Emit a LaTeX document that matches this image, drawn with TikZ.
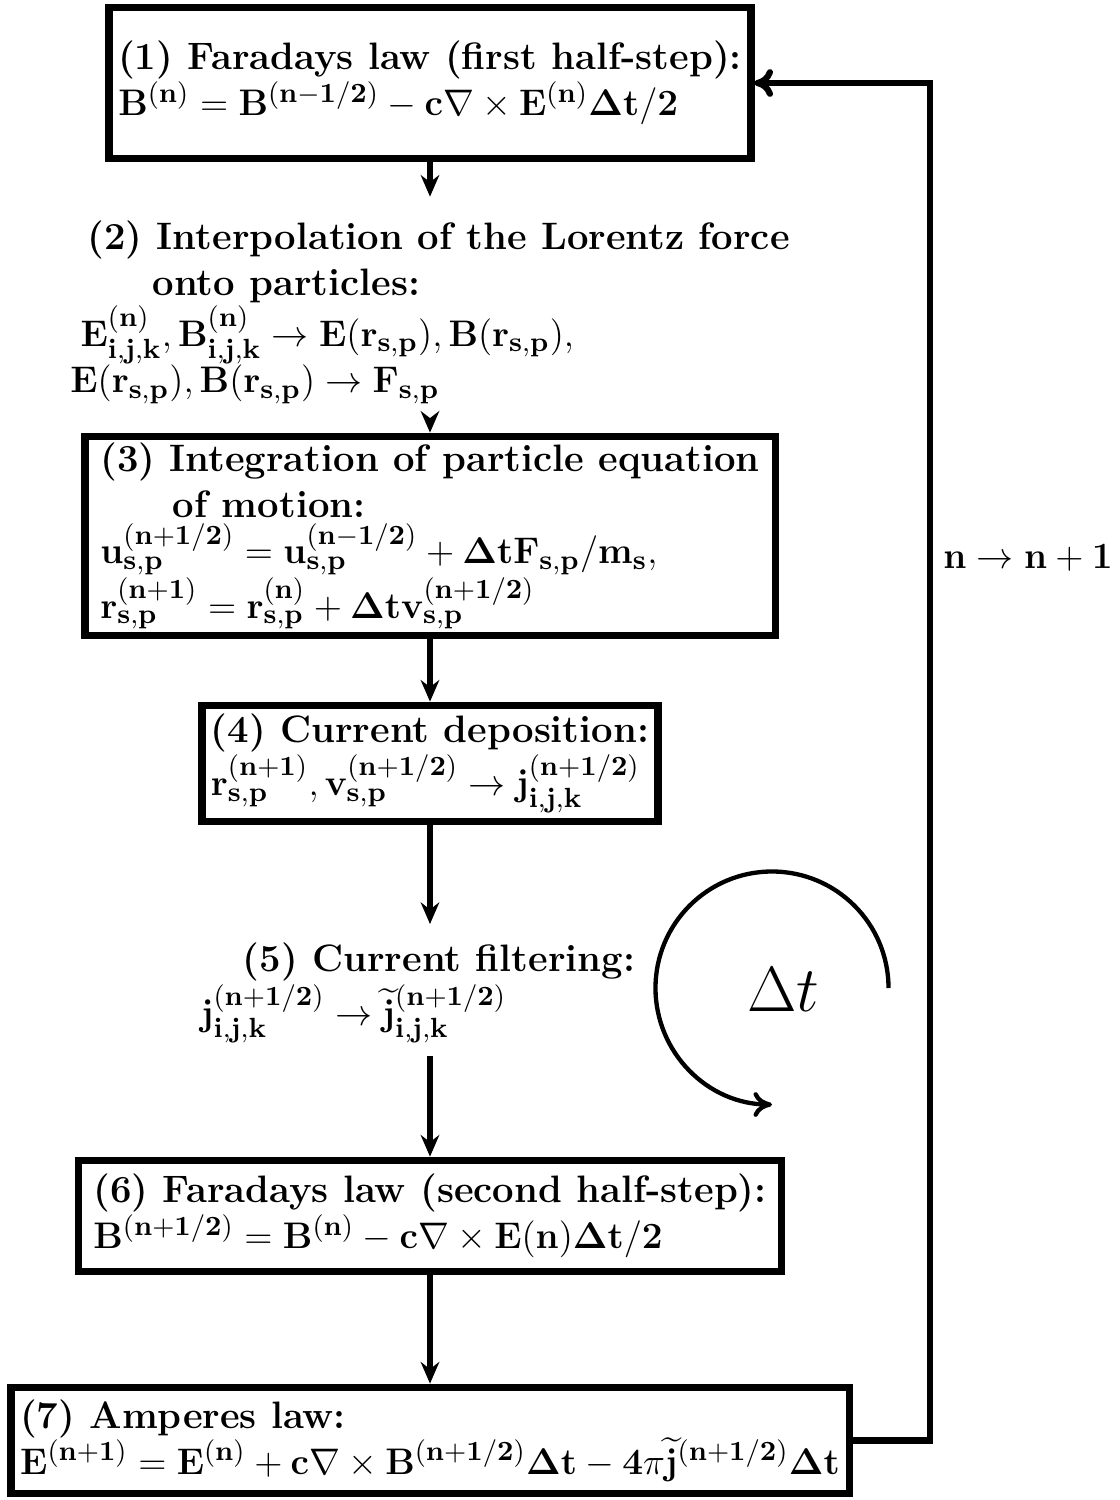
\documentclass[tikz,border=0pt]{standalone}
\usepackage{amsmath}
\usetikzlibrary{arrows.meta}

\begin{document}
\begin{tikzpicture}[x=0.0114cm, y=0.0114cm, >={Stealth[length=7pt,width=6pt]},
    every node/.style={font=\fontsize{12.4}{15}\selectfont\bfseries, align=left},
    stepbox/.style={draw, rectangle, line width=2.5pt, inner sep=2pt},
    flow/.style={->, line width=1.9pt}]
    \useasboundingbox (0,0) rectangle (1119,-1500);

    % steps of the loop
    \node (b1) [stepbox, minimum width=208pt, minimum height=49pt] at (430,-83)
        {(1) Faradays law (first half-step):\\
         $\mathbf{B^{(n)} = B^{(n-1/2)} - c\nabla\times E^{(n)}\Delta t/2}$};
    \node (t2) [inner sep=0pt] at (430,-312)
        {\hspace*{0.45em}(2) Interpolation of the Lorentz force\\
         \hspace*{2.15em}onto particles:\\
         \hspace*{0.27em}$\mathbf{E^{(n)}_{i,j,k}, B^{(n)}_{i,j,k} \rightarrow E(r_{s,p}), B(r_{s,p}),}$\\
         $\mathbf{E(r_{s,p}), B(r_{s,p}) \rightarrow F_{s,p}}$};
    \node (b3) [stepbox, minimum width=224pt, minimum height=64pt] at (430,-536)
        {(3) Integration of particle equation\\
         \hspace*{1.9em}of motion:\\
         $\mathbf{u^{(n+1/2)}_{s,p} = u^{(n-1/2)}_{s,p} + \Delta t F_{s,p}/m_s,}$\\
         $\mathbf{r^{(n+1)}_{s,p} = r^{(n)}_{s,p} + \Delta t v^{(n+1/2)}_{s,p}}$};
    \node (b4) [stepbox, minimum width=148pt, minimum height=37.6pt] at (430,-763.5)
        {(4) Current deposition:\\
         $\mathbf{r^{(n+1)}_{s,p}, v^{(n+1/2)}_{s,p} \rightarrow j^{(n+1/2)}_{i,j,k}}$};
    \node (t5) [inner sep=0pt] at (418,-993)
        {\hspace*{1.1em}(5) Current filtering:\\
         $\mathbf{j^{(n+1/2)}_{i,j,k} \rightarrow \widetilde{j}^{(n+1/2)}_{i,j,k}}$};
    \node (b6) [stepbox, minimum width=228pt, minimum height=36pt] at (430,-1216)
        {(6) Faradays law (second half-step):\\
         $\mathbf{B^{(n+1/2)} = B^{(n)} - c\nabla\times E(n)\Delta t/2}$};
    \node (b7) [stepbox, minimum width=272pt, minimum height=34.4pt] at (430,-1440.5)
        {(7) Amperes law:\\
         $\mathbf{E^{(n+1)} = E^{(n)} + c\nabla\times B^{(n+1/2)}\Delta t - 4\pi\widetilde{j}^{(n+1/2)}\Delta t}$};

    \draw[flow, shorten >=7.5pt] (b1) -- (t2);
    \draw[flow, shorten <=4.5pt] (t2) -- (b3);
    \draw[flow] (b3) -- (b4);
    \draw[flow, shorten >=6pt] (b4) -- (b4 |- t5.north);
    \draw[flow, shorten <=4pt] (b4 |- t5.south) -- (b6);
    \draw[flow] (b6) -- (b7);

    % back to the start
    \coordinate (back) at (930,-1440.5);
    \draw[line width=2pt, -{To[length=6pt,width=9pt]}] (b7.east) -- (back)
        -- (back |- b1.east) node[pos=0.65, right] {$\mathbf{n\rightarrow n+1}$}
        -- (b1.east);

    % time step
    \coordinate (cyc) at (772,-988);
    \node (dt) [font=\fontsize{20}{24}\selectfont] at (783,-990) {$\Delta t$};
    \draw[line width=1.4pt, -{To[length=6pt,width=8pt]}] ([xshift=1.328cm]cyc)
        arc[start angle=0, end angle=270, radius=1.328cm];
\end{tikzpicture}
\end{document}
